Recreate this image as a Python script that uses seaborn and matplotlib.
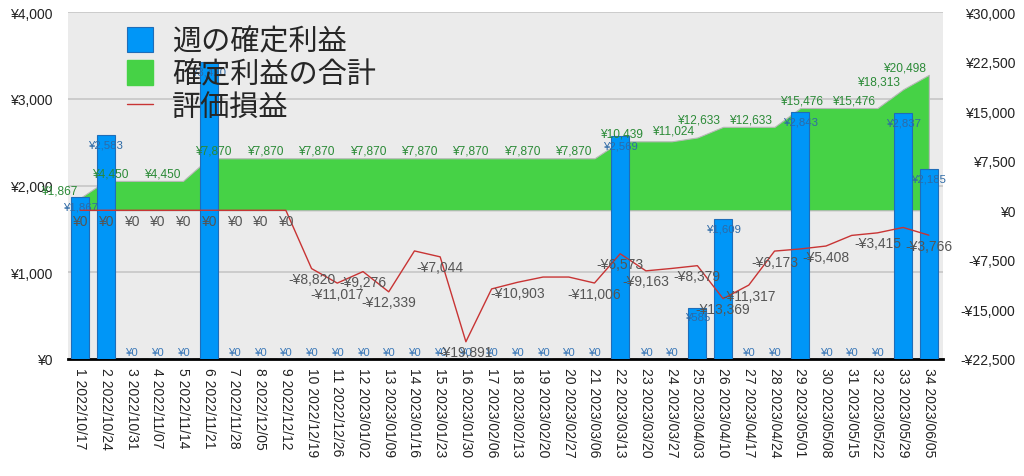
import numpy as np
import pandas as pd
import matplotlib
matplotlib.use("Agg")
import matplotlib.pyplot as plt
import seaborn as sns
from matplotlib.patches import Patch
from matplotlib.lines import Line2D

# ---------------- data ----------------
week_no = list(range(1, 35))
week_dates = ["2022/10/17", "2022/10/24", "2022/10/31", "2022/11/07", "2022/11/14",
              "2022/11/21", "2022/11/28", "2022/12/05", "2022/12/12", "2022/12/19",
              "2022/12/26", "2023/01/02", "2023/01/09", "2023/01/16", "2023/01/23",
              "2023/01/30", "2023/02/06", "2023/02/13", "2023/02/20", "2023/02/27",
              "2023/03/06", "2023/03/13", "2023/03/20", "2023/03/27", "2023/04/03",
              "2023/04/10", "2023/04/17", "2023/04/24", "2023/05/01", "2023/05/08",
              "2023/05/15", "2023/05/22", "2023/05/29", "2023/06/05"]
weekly_profit = [1867, 2583, 0, 0, 0, 3420, 0, 0, 0, 0, 0, 0, 0, 0, 0, 0, 0,
                 0, 0, 0, 0, 2569, 0, 0, 585, 1609, 0, 0, 2843, 0, 0, 0, 2837, 2185]
cumulative_profit = [1867, 4450, 4450, 4450, 4450, 7870, 7870, 7870, 7870, 7870,
                     7870, 7870, 7870, 7870, 7870, 7870, 7870, 7870, 7870, 7870,
                     7870, 10439, 10439, 10439, 11024, 12633, 12633, 12633, 15476,
                     15476, 15476, 15476, 18313, 20498]
unrealized = [0, 0, 0, 0, 0, 0, 0, 0, 0, -8820, -11017, -9276, -12339, -6150,
              -7044, -19891, -11900, -10903, -10100, -10100, -11006, -6573, -9163,
              -8800, -8379, -13369, -11317, -6173, -5850, -5408, -3800, -3415,
              -2600, -3766]
cum_label_weeks = [1, 3, 5, 7, 9, 11, 13, 15, 17, 19, 21, 23, 25, 26, 28, 30, 32, 33, 34]
unreal_label_weeks = [1, 2, 3, 4, 5, 6, 7, 8, 9, 10, 11, 12, 13, 15, 16, 18, 21, 22,
                      23, 25, 26, 27, 28, 30, 32, 34]
left_ticks = [0, 1000, 2000, 3000, 4000]
right_ticks = [-22500, -15000, -7500, 0, 7500, 15000, 22500, 30000]
legend_labels = ["週の確定利益", "確定利益の合計", "評価損益"]

x_labels = [f"{n} {d}" for n, d in zip(week_no, week_dates)]
df = pd.DataFrame({"label": x_labels, "weekly": weekly_profit,
                   "cum": cumulative_profit, "unreal": unrealized})
df["pos"] = np.arange(len(df))


def yen(v):
    return f"-¥{abs(v):,}" if v < 0 else f"¥{v:,}"


sns.set_style("white")
FONT = ["Liberation Sans", "Noto Sans CJK JP", "DejaVu Sans"]
plt.rcParams["font.family"] = FONT

BAR_C = "#0096f7"
BAR_EDGE = "#1f6db8"
GREEN = "#46d246"
RED = "#c83434"

fig = plt.figure(figsize=(10.24, 4.77), dpi=100)
ax0 = fig.add_axes([0.0664, 0.2453, 0.8545, 0.7274])
ax_area = ax0.twinx()
ax_bar = ax0.twinx()
ax_line = ax0.twinx()

ax0.set_facecolor("#ebebeb")

# area (cumulative, right scale)
ax_area.fill_between(df["pos"], 0, df["cum"], color=GREEN, edgecolor="#b8b8b8",
                     linewidth=0.8, zorder=2)

# bars (weekly, left scale)
sns.barplot(data=df, x="label", y="weekly", ax=ax_bar, color=BAR_C, saturation=1,
            width=0.7, edgecolor=BAR_EDGE, linewidth=0.8)

# line (unrealized, right scale)
sns.lineplot(data=df, x="pos", y="unreal", ax=ax_line, color=RED, linewidth=1.0)

# limits
for a in (ax0, ax_bar):
    a.set_ylim(0, 4000)
for a in (ax_area, ax_line):
    a.set_ylim(-22500, 30000)
ax0.set_xlim(-0.47, 33.55)

# bar labels
for p, v in zip(df["pos"], df["weekly"]):
    if v > 0:
        ax_bar.annotate(yen(v), (p, v), xytext=(0, -3), textcoords="offset points",
                        ha="center", va="top", fontsize=8.2, color="#2e6aa6",
                        zorder=10)
    else:
        ax_bar.annotate(yen(v), (p, v), xytext=(0, 1.5), textcoords="offset points",
                        ha="center", va="bottom", fontsize=8.2, color="#3a78b8",
                        zorder=10)

# cumulative labels
for w in cum_label_weeks:
    i = w - 1
    ax_line.annotate(yen(cumulative_profit[i]), (i, cumulative_profit[i]),
                     xytext=(-2, 1), textcoords="offset points", ha="right",
                     va="bottom", fontsize=8.6, color="#2a8a36")

# unrealized labels
for w in unreal_label_weeks:
    i = w - 1
    ax_line.annotate(yen(unrealized[i]), (i, unrealized[i]), xytext=(0, -2.5),
                     textcoords="offset points", ha="center", va="top",
                     fontsize=10, color="#555555")

# axes styling
ax0.set_yticks(left_ticks)
ax0.set_yticklabels([yen(v) for v in left_ticks])
ax0.yaxis.grid(True, color="#c6c6c6", linewidth=1.2)
ax0.xaxis.grid(False)
ax0.tick_params(axis="y", length=0, pad=11, labelsize=10, labelcolor="#222222")
ax0.set_ylabel("")

ax_area.set_yticks(right_ticks)
ax_area.set_yticklabels([yen(v) for v in right_ticks])
ax_area.tick_params(axis="y", length=0, pad=52, labelsize=10, labelcolor="#222222")
for t in ax_area.get_yticklabels():
    t.set_horizontalalignment("right")

ax_bar.yaxis.set_visible(False)
ax_line.yaxis.set_visible(False)
ax_bar.set_xlabel("")
ax_line.set_xlabel("")

ax0.set_xticks(df["pos"])
ax0.set_xticklabels(x_labels, rotation=270, ha="center", va="top")
ax0.tick_params(axis="x", length=0, pad=6, labelsize=10, labelcolor="#222222")
ax0.set_xlabel("")
ax0.set_xlim(-0.47, 33.55)

for a in (ax0, ax_area, ax_bar, ax_line):
    for s in a.spines.values():
        s.set_visible(False)
ax0.spines["bottom"].set_visible(True)
ax0.spines["bottom"].set_color("black")
ax0.spines["bottom"].set_linewidth(2.0)

handles = [Patch(facecolor=BAR_C, edgecolor=BAR_EDGE, linewidth=0.8),
           Patch(facecolor=GREEN, edgecolor=GREEN),
           Line2D([0], [0], color=RED, linewidth=1.0)]
leg = ax_line.legend(handles, legend_labels, loc="upper left",
                     bbox_to_anchor=(0.067, 0.958), borderaxespad=0, borderpad=0,
                     frameon=False, handlelength=0.9, handleheight=0.9,
                     handletextpad=0.65, labelspacing=0.1,
                     prop={"family": ["Noto Sans CJK JP", "DejaVu Sans"], "size": 21})

fig.savefig("out.png", dpi=100)
